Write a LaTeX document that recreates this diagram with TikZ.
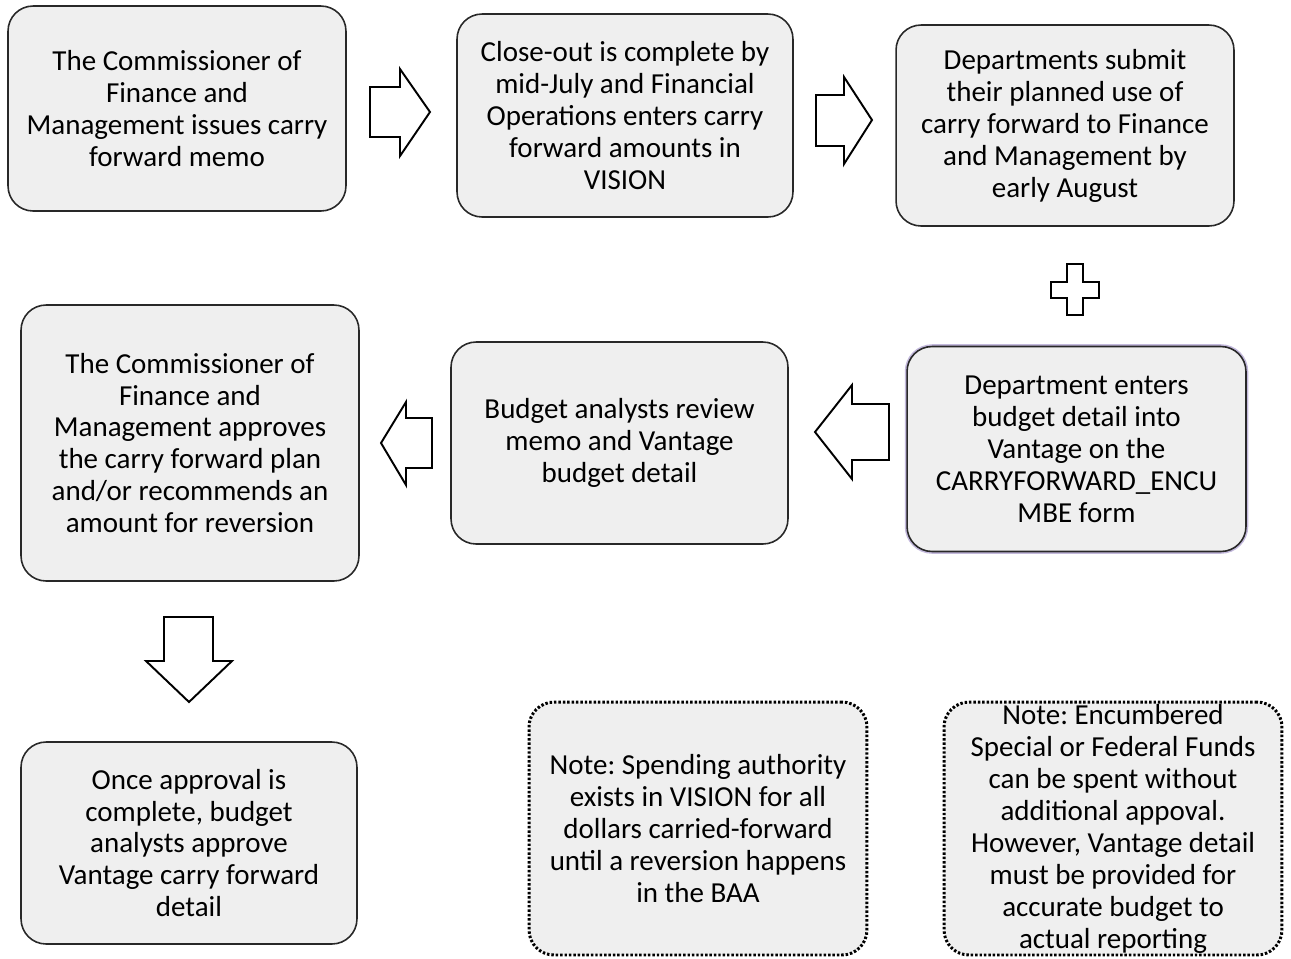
\documentclass[tikz,border=0pt]{standalone}
\usepackage{fontspec}
\setmainfont{Carlito}
\usepackage{tikz}
\definecolor{boxgrau}{RGB}{239,239,239}
\definecolor{randgrau}{RGB}{40,40,40}
\definecolor{lila}{RGB}{195,185,220}
\frenchspacing

\begin{document}
\begin{tikzpicture}[x=0.02cm, y=-0.02cm,
	stepbox/.style={rectangle, rounded corners=0.5cm, draw=randgrau, line width=0.9pt, fill=boxgrau, align=center, inner sep=2pt, font=\fontsize{16.5}{18.2}\selectfont},
	notebox/.style={stepbox, draw=black, line width=1.7pt, dash pattern=on 1.4pt off 1.1pt, inner ysep=0pt},
	blockpfeil/.style={draw=black, line width=1.1pt, fill=white, line join=miter}]
	\useasboundingbox (0,0) rectangle (1291,958);
	\node[stepbox, minimum width=6.76cm, minimum height=4.10cm] (memo) at (177,108.5) {The Commissioner of\\Finance and\\Management issues carry\\forward memo};
	\node[stepbox, minimum width=6.72cm, minimum height=4.06cm] (closeout) at (625,115.5) {Close-out is complete by\\mid-July and Financial\\Operations enters carry\\forward amounts in\\VISION};
	\node[stepbox, minimum width=6.76cm, minimum height=4.02cm] (plan) at (1065,125.5) {Departments submit\\their planned use of\\carry forward to Finance\\and Management by\\early August};
	\node[stepbox, minimum width=6.78cm, minimum height=4.10cm, preaction={draw=lila, line width=2.6pt}] (vantage) at (1076.5,449) {Department enters\\budget detail into\\Vantage on the\\CARRYFORWARD\_ENCU\\MBE form};
	\node[stepbox, minimum width=6.74cm, minimum height=4.04cm] (review) at (619.5,443) {Budget analysts review\\memo and Vantage\\budget detail};
	\node[stepbox, minimum width=6.76cm, minimum height=5.52cm] (approve) at (190,443) {The Commissioner of\\Finance and\\Management approves\\the carry forward plan\\and/or recommends an\\amount for reversion};
	\node[stepbox, minimum width=6.72cm, minimum height=4.04cm] (done) at (189,843) {Once approval is\\complete, budget\\analysts approve\\Vantage carry forward\\detail};
	\node[notebox, minimum width=6.76cm, minimum height=5.06cm] (note1) at (698,828.5) {Note: Spending authority\\exists in VISION for all\\dollars carried-forward\\until a reversion happens\\in the BAA};
	\node[notebox, minimum width=6.76cm, minimum height=5.06cm] (note2) at (1113,828.5) {Note: Encumbered\\Special or Federal Funds\\can be spent without\\additional appoval.\\However, Vantage detail\\must be provided for\\accurate budget to\\actual reporting};
	\draw[blockpfeil] (370,87) -- (400,87) -- (400,69) -- (430,112) -- (400,156) -- (400,137) -- (370,137) -- cycle;
	\draw[blockpfeil] (816,95) -- (844,95) -- (844,77) -- (872,120) -- (844,164) -- (844,146) -- (816,146) -- cycle;
	\draw[blockpfeil] (1067,264) -- (1083,264) -- (1083,282) -- (1099,282) -- (1099,298) -- (1083,298) -- (1083,315) -- (1067,315) -- (1067,298) -- (1051,298) -- (1051,282) -- (1067,282) -- cycle;
	\draw[blockpfeil] (889,404) -- (852,404) -- (852,385) -- (815,432) -- (852,479) -- (852,460) -- (889,460) -- cycle;
	\draw[blockpfeil] (432,418) -- (406,418) -- (406,402) -- (381,443) -- (406,485) -- (406,468) -- (432,468) -- cycle;
	\draw[blockpfeil] (164,617) -- (213,617) -- (213,661) -- (232,661) -- (189,702) -- (146,661) -- (164,661) -- cycle;
\end{tikzpicture}
\end{document}
